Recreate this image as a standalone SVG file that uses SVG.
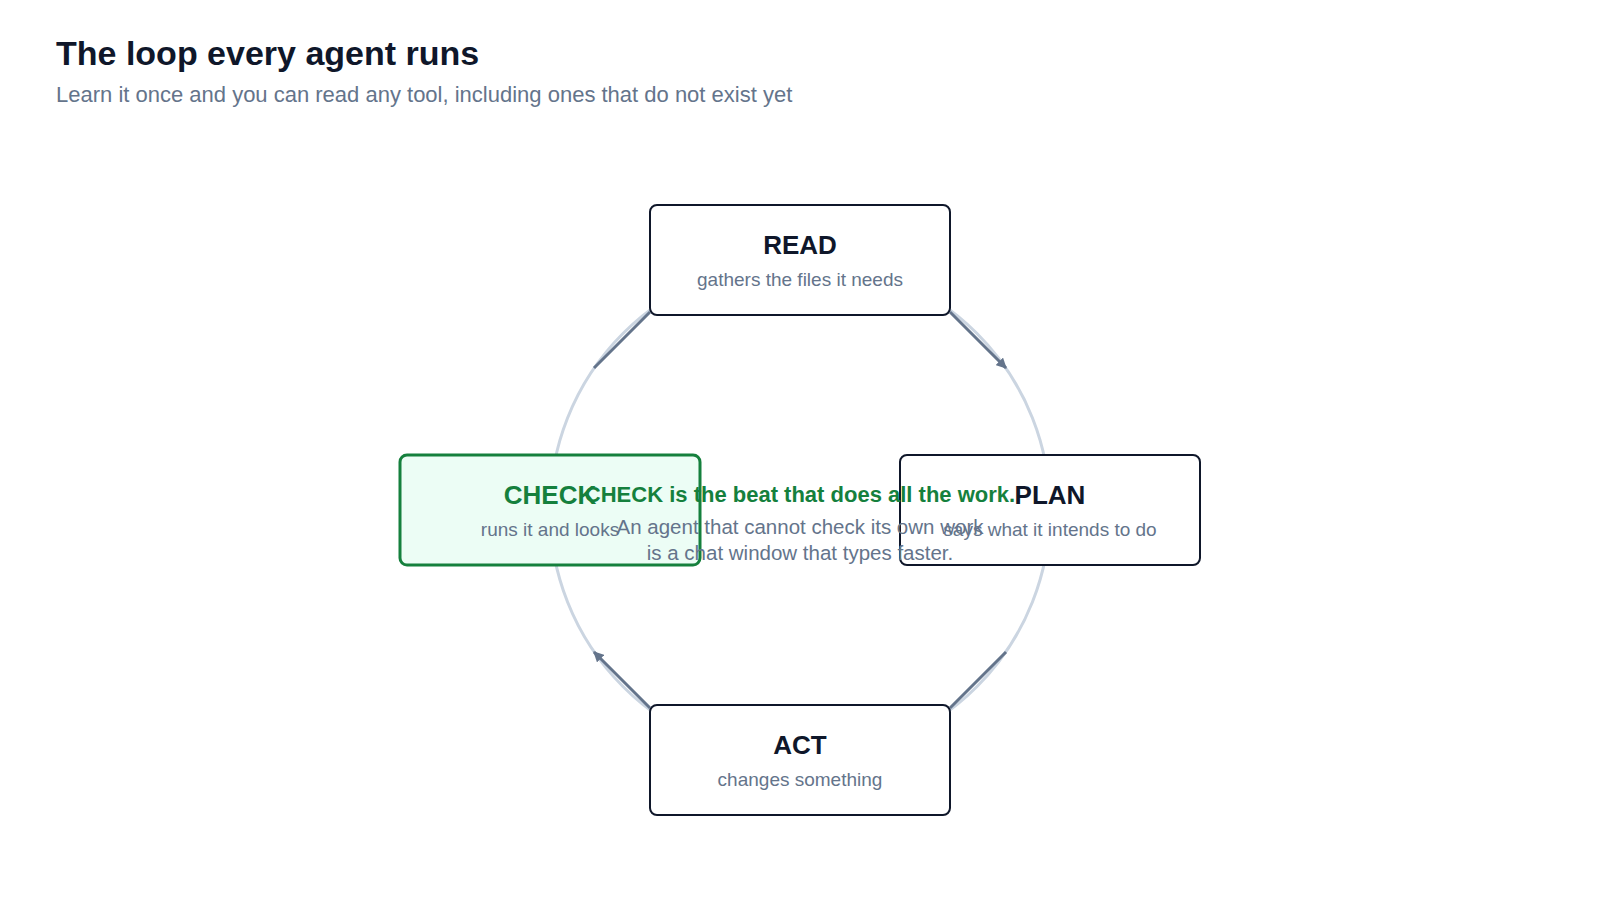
<svg xmlns="http://www.w3.org/2000/svg" width="1600" height="900" viewBox="0 0 1600 900">
<style>
text{font-family:"Liberation Sans",Arial,sans-serif}
.t{font-size:26px;font-weight:bold;fill:#0f172a;text-anchor:middle}
.s{font-size:19px;fill:#64748b;text-anchor:middle}
.box{fill:#fff;stroke:#0f172a;stroke-width:2}
.c{stroke:#64748b;stroke-width:3;fill:none}
</style>
<defs><marker id="a" viewBox="0 0 10 10" refX="9" refY="5" markerWidth="3.5" markerHeight="3.5" orient="auto"><path d="M0,0L10,5L0,10z" fill="#64748b"/></marker></defs>
<rect width="1600" height="900" fill="#fff"/>
<text x="56" y="65" font-size="34" font-weight="bold" fill="#0f172a">The loop every agent runs</text>
<text x="56" y="102" font-size="22" fill="#64748b">Learn it once and you can read any tool, including ones that do not exist yet</text>
<circle cx="800" cy="510" r="250" fill="none" stroke="#cbd5e1" stroke-width="3"/>
<g id="connectors">
<line class="c" x1="950" y1="312" x2="1006" y2="368" marker-end="url(#a)"/>
<line class="c" x1="1006" y1="652" x2="950" y2="708"/>
<line class="c" x1="650" y1="708" x2="594" y2="652" marker-end="url(#a)"/>
<line class="c" x1="594" y1="368" x2="650" y2="312"/>
</g>
<g id="read"><rect class="box" x="650" y="205" width="300" height="110" rx="7"/><text class="t" x="800" y="254">READ</text><text class="s" x="800" y="286">gathers the files it needs</text></g>
<g id="plan"><rect class="box" x="900" y="455" width="300" height="110" rx="7"/><text class="t" x="1050" y="504">PLAN</text><text class="s" x="1050" y="536">says what it intends to do</text></g>
<g id="act"><rect class="box" x="650" y="705" width="300" height="110" rx="7"/><text class="t" x="800" y="754">ACT</text><text class="s" x="800" y="786">changes something</text></g>
<g id="check"><rect x="400" y="455" width="300" height="110" rx="7" fill="#ecfdf5" stroke="#15803d" stroke-width="3"/><text class="t" x="550" y="504" style="fill:#15803d">CHECK</text><text class="s" x="550" y="536">runs it and looks</text></g>
<g id="center">
<text x="800" y="502" font-size="22" font-weight="bold" fill="#15803d" text-anchor="middle">CHECK is the beat that does all the work.</text>
<text x="800" y="534" font-size="20.5" fill="#64748b" text-anchor="middle">An agent that cannot check its own work</text>
<text x="800" y="560" font-size="20.5" fill="#64748b" text-anchor="middle">is a chat window that types faster.</text>
</g>
</svg>
